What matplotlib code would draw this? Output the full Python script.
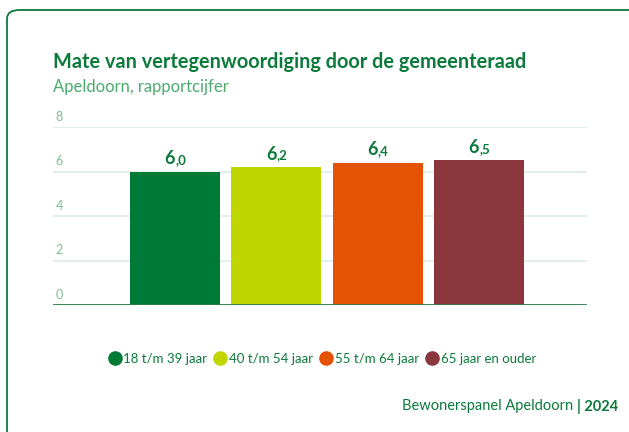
import matplotlib.pyplot as plt
from matplotlib.patches import FancyBboxPatch
from matplotlib.lines import Line2D

# data
groepen = ['18 t/m 39 jaar', '40 t/m 54 jaar', '55 t/m 64 jaar', '65 jaar en ouder']
cijfers = [6.0, 6.2, 6.4, 6.5]
kleuren = ['#007a37', '#bfd600', '#e35205', '#8b353d']
yticks = [0, 2, 4, 6, 8]

titel = 'Mate van vertegenwoordiging door de gemeenteraad'
subtitel = 'Apeldoorn, rapportcijfer'
bron = 'Bewonerspanel Apeldoorn'
jaar = '| 2024'

groen = '#0b7a3b'
plt.rcParams['font.family'] = ['Lato', 'DejaVu Sans']

W, H = 629, 432
fig = plt.figure(figsize=(W / 100, H / 100), dpi=100)

# kaart-rand (loopt door buiten beeld)
rand = FancyBboxPatch((7 / W, -0.2), 1.2, 1.2 - 10 / H,
                      boxstyle='round,pad=0,rounding_size=0.02',
                      transform=fig.transFigure, fill=False,
                      edgecolor=groen, linewidth=1.3)
fig.add_artist(rand)

ax = fig.add_axes([53 / W, (H - 305) / H, (587 - 53) / W, (305 - 127) / H])

x = list(range(len(groepen)))
ax.bar(x, cijfers, width=0.888, color=kleuren, zorder=3)
ax.set_xlim(-1.204, 4.066)
ax.set_ylim(0, 8)

for t in yticks:
    ax.axhline(t, color='#dcede4', linewidth=1.2, zorder=1)
    ax.annotate(str(t), xy=(0, t), xycoords=('axes fraction', 'data'),
                xytext=(2, 3), textcoords='offset points',
                ha='left', va='bottom', fontsize=9, color='#7cc094')
ax.axhline(0, color='#2e7d4a', linewidth=1.3, zorder=4)

for xi, v in zip(x, cijfers):
    heel, dec = f'{v:.1f}'.split('.')
    t1 = ax.annotate(heel, xy=(xi - 0.05, v), xytext=(0, 3), textcoords='offset points',
                     ha='center', va='bottom', fontsize=13, fontweight='bold', color=groen)
    ax.annotate(',' + dec, xy=(1, 0), xycoords=t1, xytext=(0, 1), textcoords='offset points',
                ha='left', va='bottom', fontsize=9.5, fontweight='bold', color=groen)

ax.set_xticks([])
ax.set_yticks([])
for s in ax.spines.values():
    s.set_visible(False)

fig.text(53 / W, 1 - 62 / H, titel, ha='left', va='center', fontsize=14.3,
         fontweight='bold', color=groen)
fig.text(53 / W, 1 - 87 / H, subtitel, ha='left', va='center', fontsize=12,
         color='#4caa6e')

handles = [Line2D([], [], marker='o', linestyle='none', markersize=9.5,
                  markerfacecolor=k, markeredgecolor=k) for k in kleuren]
fig.legend(handles, groepen, loc='center', bbox_to_anchor=(322 / W, 1 - 359 / H),
           ncol=4, frameon=False, handletextpad=0.15, columnspacing=0.5,
           handlelength=1.0, fontsize=9.5, labelcolor=groen)

tj = fig.text(618 / W, 1 - 406 / H, jaar, ha='right', va='center', fontsize=10.5,
              fontweight='bold', color=groen)
ax.annotate(bron, xy=(0, 0.5), xycoords=tj, xytext=(-3, 0), textcoords='offset points',
            ha='right', va='center', fontsize=10.5, color=groen)

fig.savefig('out.png', dpi=100)
